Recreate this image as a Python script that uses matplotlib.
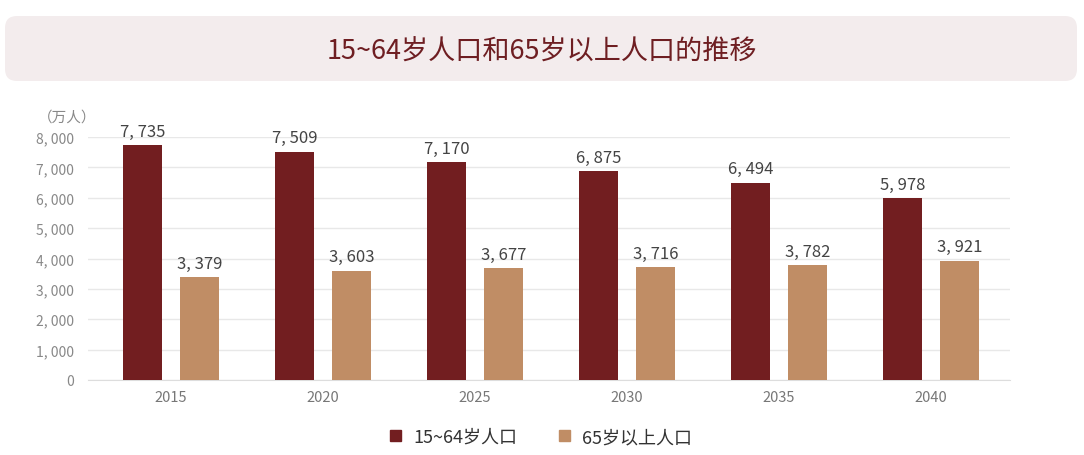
import matplotlib
matplotlib.use("Agg")
import matplotlib.pyplot as plt
import numpy as np
from matplotlib.patches import FancyBboxPatch, Patch

plt.rcParams['font.family'] = ['Noto Sans CJK SC', 'DejaVu Sans']

# data
years = ["2015", "2020", "2025", "2030", "2035", "2040"]
working_age = [7735, 7509, 7170, 6875, 6494, 5978]
elderly = [3379, 3603, 3677, 3716, 3782, 3921]
series_names = ["15~64岁人口", "65岁以上人口"]
title = "15~64岁人口和65岁以上人口的推移"

DARK = "#721e20"
TAN = "#c08d65"

def fmt(v):
    return "{:,}".format(v).replace(",", ", ")

fig = plt.figure(figsize=(10.84, 4.56), dpi=100)

# title box
box = FancyBboxPatch((0.05, 3.74), 10.72, 0.65,
                     boxstyle="round,pad=0,rounding_size=0.12",
                     transform=fig.dpi_scale_trans,
                     facecolor="#f3eced", edgecolor="none")
fig.patches.append(box)
fig.text(0.5, 1 - 52 / 456, title, ha="center", va="center",
         fontsize=19.5, color="#6e1e22")

ax = fig.add_axes([88 / 1084, 75 / 456, 922 / 1084, 243 / 456])
x = np.arange(len(years))
off = 0.1875
w = 0.257
b1 = ax.bar(x - off, working_age, w, color=DARK, zorder=3)
b2 = ax.bar(x + off, elderly, w, color=TAN, zorder=3)

for bars, vals in ((b1, working_age), (b2, elderly)):
    for r, v in zip(bars, vals):
        ax.annotate(fmt(v), (r.get_x() + r.get_width() / 2, v),
                    xytext=(0, 4), textcoords="offset points",
                    ha="center", va="bottom", fontsize=12,
                    color="#444444", annotation_clip=False)

ax.set_xlim(-0.546, 5.52)
ax.set_ylim(0, 8000)
ax.set_yticks(range(0, 8001, 1000))
ax.set_yticklabels([fmt(v) for v in range(0, 8001, 1000)])
ax.set_xticks(x)
ax.set_xticklabels(years)
ax.tick_params(axis="y", length=0, pad=10, labelsize=10, labelcolor="#888888")
ax.tick_params(axis="x", length=0, pad=7, labelsize=10.5, labelcolor="#777777")
ax.grid(axis="y", color="#e8e8e8", linewidth=1, zorder=0)
for s in ("top", "right", "left"):
    ax.spines[s].set_visible(False)
ax.spines["bottom"].set_color("#dddddd")

fig.text(38 / 1084, 1 - 118 / 456, "（万人）", ha="left", va="center",
         fontsize=10.5, color="#888888")

handles = [Patch(color=DARK), Patch(color=TAN)]
fig.legend(handles, series_names, loc="center", ncol=2,
           bbox_to_anchor=(541 / 1084, 1 - 438 / 456), frameon=False,
           handlelength=0.6, handleheight=0.6, handletextpad=0.7,
           columnspacing=2.3, fontsize=13, labelcolor="#333333")

fig.savefig("out.png", dpi=100)
